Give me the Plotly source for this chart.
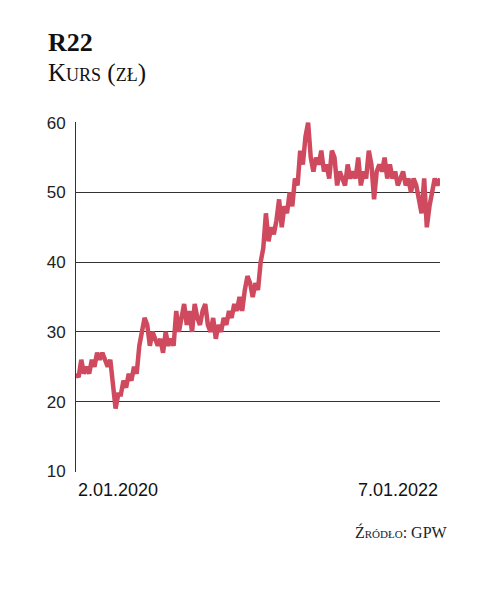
import plotly.graph_objects as go
import pandas as pd

start_label = "2.01.2020"
end_label = "7.01.2022"
prices = [24,23.5,26,24,25, 24,26,25,27,26,27,26,25, 26,22,19,21, 21,23,22,24,23,25,24,
          28,30,32,31,28,30,29, 28,29,27,30,28,29,28,33,30,32, 34,31,33,30,34,32,31,33,
          34,31,30,32,29,31,30,32, 31,33,32,34,33,35,33, 36,38,37,35,37,36,40,
          42,47,43,45,44,46,49, 45,48,47,50,48,52,51,56, 54,58,60,55,53,55,54,
          56,53,54,52,56,55,51, 53,52,51,54,52,53,52,55, 51,53,52,56,54,49,53,
          54,53,55,52,54,52,53, 51,52,53,51,52,50, 52,51,49,47,52,45,48, 50,52,51,52]
yticks = [10,20,30,40,50,60]

dates = pd.date_range("2020-01-02", "2022-01-07", periods=len(prices))

fig = go.Figure(go.Scatter(x=dates, y=prices, mode="lines",
                           line=dict(color="#cf4a5e", width=4.5)))
fig.update_layout(
    width=485, height=593, paper_bgcolor="white", plot_bgcolor="white",
    margin=dict(l=68, r=53, t=114, b=129), showlegend=False,
    font=dict(family="Liberation Sans", color="#222"),
    xaxis=dict(range=[dates[0], dates[-1]], showticklabels=False, showgrid=False,
               zeroline=False, showline=False),
    yaxis=dict(range=[9.9, 60.1], tickvals=yticks, showgrid=True, gridcolor="#333",
               gridwidth=1, zeroline=False, showline=True, linecolor="#333",
               ticks="", tickfont=dict(size=17, color="#222"), ticklabelstandoff=6),
    annotations=[
        dict(text="<b>R22</b>", xref="paper", yref="paper", x=0, y=1, xanchor="left",
             yanchor="middle", xshift=-30, yshift=80, showarrow=False,
             font=dict(family="Liberation Serif", size=26, color="#111")),
        dict(text="Kurs (zł)", xref="paper", yref="paper", x=0, y=1, xanchor="left",
             yanchor="middle", xshift=-30, yshift=49, showarrow=False,
             font=dict(family="Liberation Serif", size=25, color="#111", variant="small-caps")),
        dict(text=start_label, xref="paper", yref="paper", x=0, y=0, xanchor="left",
             yanchor="top", yshift=-6, showarrow=False,
             font=dict(size=18, color="#111")),
        dict(text=end_label, xref="paper", yref="paper", x=1, y=0, xanchor="right",
             yanchor="top", yshift=-6, showarrow=False,
             font=dict(size=18, color="#111")),
        dict(text="Źródło: GPW", xref="paper", yref="paper", x=1, y=0, xanchor="right",
             yanchor="middle", xshift=10, yshift=-60, showarrow=False,
             font=dict(family="Liberation Serif", size=16, color="#222", variant="small-caps")),
    ],
)
fig.write_html("out.html")
